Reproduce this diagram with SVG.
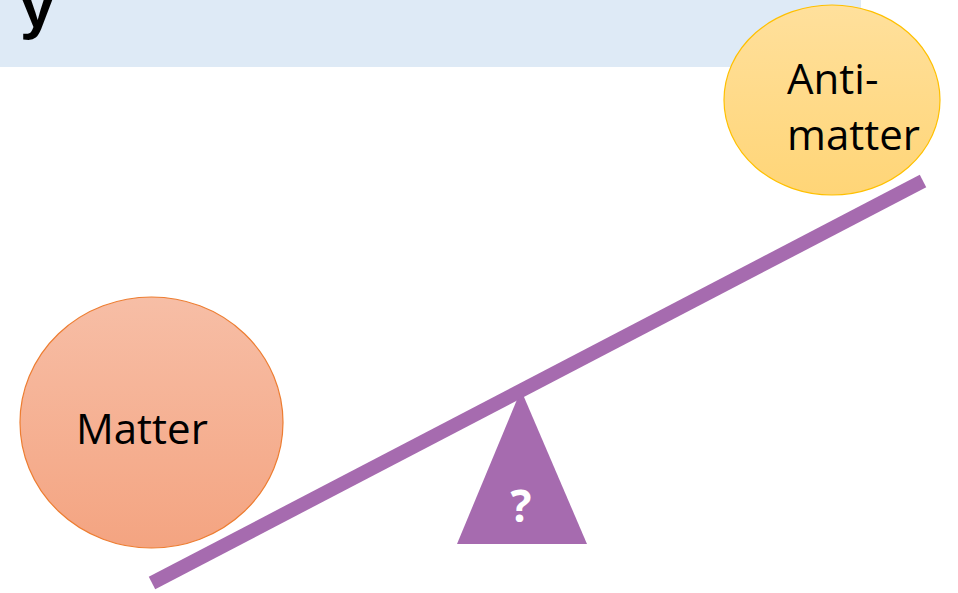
<svg xmlns="http://www.w3.org/2000/svg" width="958" height="593" viewBox="0 0 958 593">
<defs>
<linearGradient id="gMatter" x1="0" y1="0" x2="0" y2="1">
<stop offset="0" stop-color="#F7BEA6"/>
<stop offset="1" stop-color="#F4A481"/>
</linearGradient>
<linearGradient id="gAnti" x1="0" y1="0" x2="0" y2="1">
<stop offset="0" stop-color="#FFE09C"/>
<stop offset="1" stop-color="#FFD577"/>
</linearGradient>
<style>
.lbl{font-family:"Open Sans","Noto Sans","Liberation Sans",sans-serif;font-size:42px;fill:#000}
.q{font-family:"Open Sans","Noto Sans","Liberation Sans",sans-serif;font-size:44px;font-weight:bold;fill:#fff}
.purple{fill:#A66BAF}
</style>
</defs>
<rect width="958" height="593" fill="#fff"/>
<g id="header">
<rect x="0" y="0" width="861" height="67" fill="#DEEAF6"/>
<text x="20" y="27" font-family="'Liberation Sans',sans-serif" font-weight="bold" font-size="62" fill="#000">y</text>
</g>
<g id="fulcrum">
<polygon class="purple" points="521,390 587,544 457,544"/>
<text class="q" x="521" y="522" text-anchor="middle">?</text>
</g>
<g id="connectors">
<line x1="152" y1="583" x2="923" y2="181" stroke="#A66BAF" stroke-width="14"/>
</g>
<g id="matter">
<ellipse cx="151.5" cy="422.5" rx="131.5" ry="125.5" fill="url(#gMatter)" stroke="#ED7D31" stroke-width="1.2"/>
<text class="lbl" x="76" y="444">Matter</text>
</g>
<g id="antimatter">
<ellipse cx="832" cy="100" rx="108" ry="95" fill="url(#gAnti)" stroke="#FFC000" stroke-width="1.2"/>
<text class="lbl" x="787" y="94">Anti-</text>
<text class="lbl" x="787" y="150">matter</text>
</g>
</svg>
